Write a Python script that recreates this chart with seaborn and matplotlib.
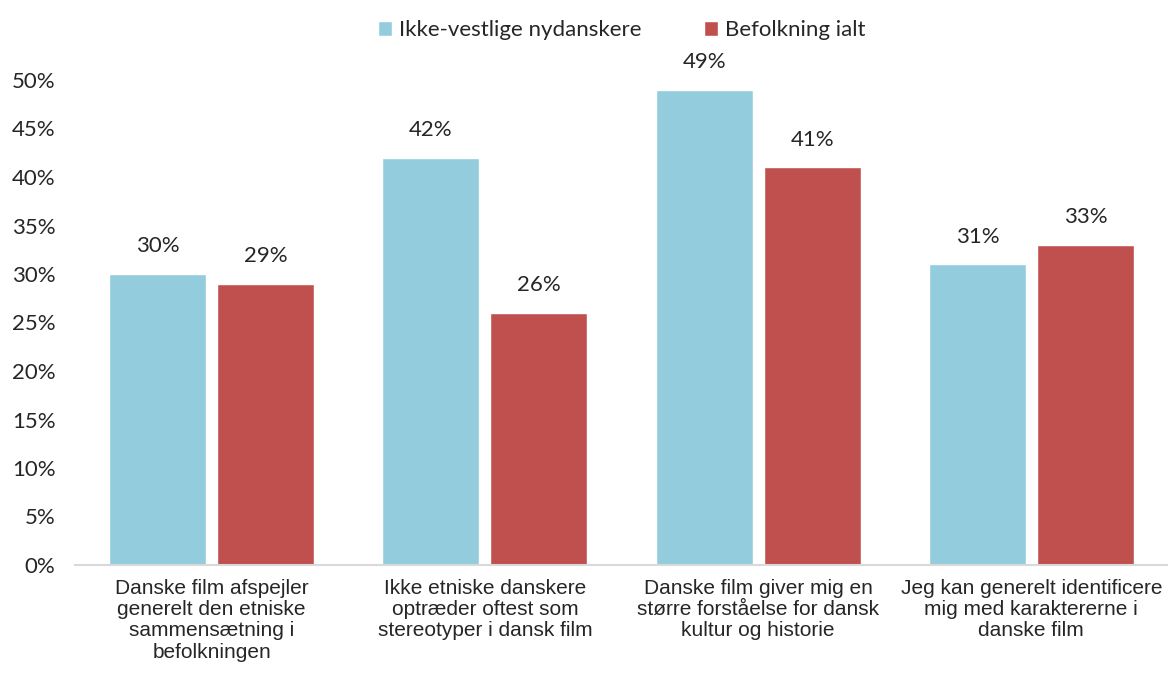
import seaborn as sns
import matplotlib.pyplot as plt
import pandas as pd

categories = [
    "Danske film afspejler\ngenerelt den etniske\nsammensætning i\nbefolkningen",
    "Ikke etniske danskere\noptræder oftest som\nstereotyper i dansk film",
    "Danske film giver mig en\nstørre forståelse for dansk\nkultur og historie",
    "Jeg kan generelt identificere\nmig med karaktererne i\ndanske film",
]
series = ["Ikke-vestlige nydanskere", "Befolkning ialt"]
nydanskere = [0.30, 0.42, 0.49, 0.31]
befolkning = [0.29, 0.26, 0.41, 0.33]
colors = ["#93CDDD", "#C0504D"]

df = pd.DataFrame({
    "kategori": categories * 2,
    "gruppe": [series[0]] * 4 + [series[1]] * 4,
    "andel": nydanskere + befolkning,
})

sns.set_style("white")
plt.rcParams['font.family'] = ['Lato', 'DejaVu Sans']

fig = plt.figure(figsize=(11.68, 6.73), dpi=100)
ax = fig.add_axes([75 / 1168, 1 - 565 / 673, 1 - 75 / 1168, (565 - 80) / 673])

sns.barplot(data=df, x="kategori", y="andel", hue="gruppe", palette=colors,
            width=0.79, gap=0.1, ax=ax, saturation=1)

for cont in ax.containers:
    for bar in cont:
        h = bar.get_height()
        ax.annotate(f"{h * 100:.0f}%", (bar.get_x() + bar.get_width() / 2, h),
                    xytext=(0, 20), textcoords="offset points",
                    ha="center", va="center", fontsize=16)

ax.set_xlim(-0.5, 3.5)
ax.set_ylim(0, 0.5)
ax.set_yticks([i / 20 for i in range(11)])
ax.set_yticklabels([f"{i * 5}%" for i in range(11)], fontsize=16)
ax.set_xticklabels(categories, fontsize=15, linespacing=1.15,
                   family=['Liberation Sans', 'DejaVu Sans'])
ax.tick_params(axis="x", length=0, pad=10)
ax.tick_params(axis="y", length=0, pad=14)
ax.set_xlabel("")
ax.set_ylabel("")
for s in ["top", "right", "left"]:
    ax.spines[s].set_visible(False)
ax.spines["bottom"].set_color("#D9D9D9")
ax.spines["bottom"].set_linewidth(1.5)

ax.legend(loc="upper center", bbox_to_anchor=(0.5, 1.165), ncol=2, frameon=False,
          fontsize=16, handlelength=0.65, handleheight=0.65, handletextpad=0.3,
          columnspacing=2.8)

fig.savefig("out.png", dpi=100)
